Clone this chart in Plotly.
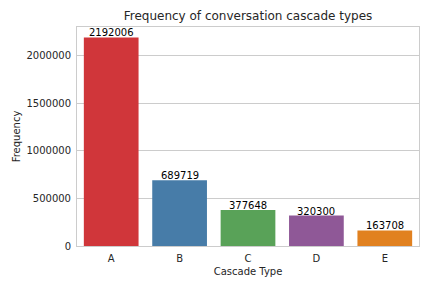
import plotly.graph_objects as go

categories = ["A", "B", "C", "D", "E"]
values = [2192006, 689719, 377648, 320300, 163708]
colors = ["#d0363a", "#477ca8", "#59a258", "#8f5897", "#e18120"]
tick_vals = [0, 500000, 1000000, 1500000, 2000000]
tick_text = ["0", "500000", "1000000", "1500000", "2000000"]

fig = go.Figure()
fig.add_trace(go.Bar(x=categories, y=values, marker=dict(color=colors, line=dict(width=0)),
                     width=0.8, showlegend=False))
for c, v in zip(categories, values):
    fig.add_annotation(x=c, y=v, text=str(v), showarrow=False, yanchor="bottom",
                       yshift=-3, font=dict(family="DejaVu Sans", size=10, color="black"))

# the page body has an 8px margin, so the figure is drawn 8px smaller and shifted
fig.update_layout(
    width=424, height=280,
    margin=dict(l=69, r=13, t=19, b=42, autoexpand=False),
    paper_bgcolor="white", plot_bgcolor="white",
    font=dict(family="DejaVu Sans", size=10, color="#262626"),
    title=dict(text="Frequency of conversation cascade types", x=0.5, xanchor="center",
               xref="paper", y=1, yref="container", yanchor="top", pad=dict(t=4),
               font=dict(size=12, color="#262626")),
    bargap=0.2,
)
fig.update_xaxes(title=dict(text="Cascade Type", standoff=4, font=dict(size=10)),
                 showgrid=False, showline=True, linecolor="#cccccc", linewidth=1, mirror=True,
                 ticks="", range=[-0.5, 4.5], automargin=False, ticklabelstandoff=3)
fig.update_yaxes(title=dict(text="Frequency", standoff=3, font=dict(size=10)),
                 range=[0, 2301606], tickvals=tick_vals, ticktext=tick_text,
                 showgrid=True, gridcolor="#cccccc", gridwidth=1,
                 showline=True, linecolor="#cccccc", linewidth=1, mirror=True,
                 zeroline=False, ticks="", automargin=False, ticklabelstandoff=3)
fig.write_html("out.html")
